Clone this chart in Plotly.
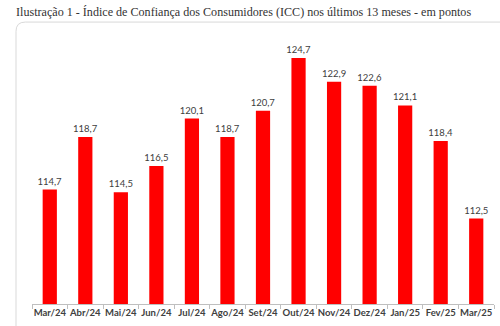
import plotly.graph_objects as go

months = ["Mar/24", "Abr/24", "Mai/24", "Jun/24", "Jul/24", "Ago/24", "Set/24",
          "Out/24", "Nov/24", "Dez/24", "Jan/25", "Fev/25", "Mar/25"]
icc = [114.7, 118.7, 114.5, 116.5, 120.1, 118.7, 120.7, 124.7, 122.9, 122.6, 121.1, 118.4, 112.5]
labels = [f"{v:.1f}".replace(".", ",") for v in icc]

fig = go.Figure(go.Bar(
    x=months, y=icc, text=labels, textposition="outside", constraintext="none",
    textfont=dict(family="Lato, Open Sans, sans-serif", size=9.5, color="#404040"),
    marker=dict(color="#ff0000", line=dict(width=0)),
    cliponaxis=False,
))

# rounded border box (paper coords)
x0, x1, y0, y1, r = -0.0346, 1.03, -0.12, 1.072, 0.02
ry = r * 462 / 263
path = (f"M {x0+r},{y1} L {x1},{y1} L {x1},{y0} L {x0},{y0} L {x0},{y1-ry} "
        f"Q {x0},{y1} {x0+r},{y1} Z")
fig.add_shape(type="path", path=path, xref="paper", yref="paper",
              line=dict(color="#d9d9d9", width=1), layer="below")

fig.update_layout(
    width=500, height=326,
    margin=dict(l=32, r=6, t=41, b=22, autoexpand=False),
    paper_bgcolor="white", plot_bgcolor="white",
    bargap=0.6, showlegend=False,
    title=dict(text="Ilustração 1 - Índice de Confiança dos Consumidores (ICC) nos últimos 13 meses - em pontos",
               x=16/500, xanchor="left", y=1-12/326, yanchor="middle",
               font=dict(family="Liberation Serif, serif", size=12.1, color="#333333")),
    xaxis=dict(showline=True, linecolor="#bfbfbf", linewidth=1, ticks="outside",
               tickson="boundaries", ticklen=4, tickcolor="#bfbfbf", tickangle=0,
               automargin=False,
               tickfont=dict(family="Lato, sans-serif", size=9.5, color="#404040", weight="bold"),
               showgrid=False),
    yaxis=dict(range=[106, 126], visible=False, showgrid=False, automargin=False),
)

fig.write_html("out.html")
